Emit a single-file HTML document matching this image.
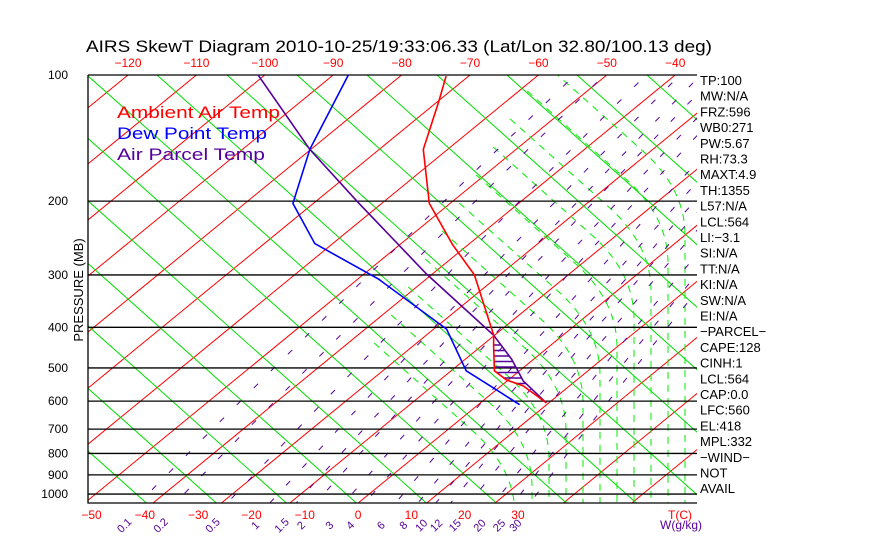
<!DOCTYPE html>
<html><head><meta charset="utf-8"><style>
html,body{margin:0;padding:0;background:#fff;}
svg{display:block;font-family:"Liberation Sans",sans-serif;}
</style></head><body>
<svg id="chart" width="870" height="560" viewBox="0 0 870 560" xmlns="http://www.w3.org/2000/svg">
<defs><clipPath id="plotclip"><rect x="88" y="75" width="609" height="428"/></clipPath></defs>
<text x="86" y="52" font-size="17" textLength="626" lengthAdjust="spacingAndGlyphs" fill="#000">AIRS SkewT Diagram 2010-10-25/19:33:06.33 (Lat/Lon 32.80/100.13 deg)</text>
<g id="bg" clip-path="url(#plotclip)"></g>
<g id="frame"></g>
<g id="series" clip-path="url(#plotclip)"></g>
<g id="labels"></g>
<text x="117" y="118" font-size="17" fill="#ff0000" textLength="163" lengthAdjust="spacingAndGlyphs">Ambient Air Temp</text>
<text x="117" y="139" font-size="17" fill="#0000ff" textLength="150" lengthAdjust="spacingAndGlyphs">Dew Point Temp</text>
<text x="117" y="160" font-size="17" fill="#55009a" textLength="148" lengthAdjust="spacingAndGlyphs">Air Parcel Temp</text>
<text transform="translate(83,290) rotate(-90)" text-anchor="middle" font-size="13" fill="#000">PRESSURE (MB)</text>
</svg>
<script>
// ---- data ----
const pressureTicks = [100,200,300,400,500,600,700,800,900,1000];
const bottomTempTicks = [-50,-40,-30,-20,-10,0,10,20,30];
const topTempTicks = [-120,-110,-100,-90,-80,-70,-60,-50,-40];
const mixingRatios = [0.1,0.2,0.5,1,1.5,2,3,4,6,8,10,12,15,20,25,30];
const ambientP = [100.6,115.4,150.5,202.5,254,300,418,442,508,534,552,606];
const ambientT = [-85.2,-80.6,-72.0,-58.0,-43.8,-32.5,-14.5,-12.1,-5.9,-1.5,3.1,11.5];
const dewP = [99.6,150.5,202.5,252.6,306.9,404,508,564,612];
const dewT = [-103.9,-93.3,-83.6,-69.9,-49.5,-24.8,-11.2,-1.0,6.9];
const parcelP = [99.6,150.5,200.6,298.5,418,477,537,606];
const parcelT = [-121,-93.3,-71.9,-41.7,-14.5,-5.4,1.9,11.5];
const infoLabels = ["TP:100","MW:N/A","FRZ:596","WB0:271","PW:5.67","RH:73.3","MAXT:4.9","TH:1355","L57:N/A","LCL:564","LI:\u22123.1","SI:N/A","TT:N/A","KI:N/A","SW:N/A","EI:N/A","\u2212PARCEL\u2212","CAPE:128","CINH:1","LCL:564","CAP:0.0","LFC:560","EL:418","MPL:332","\u2212WIND\u2212","NOT","AVAIL"];

const NS="http://www.w3.org/2000/svg";
const X0=88,X1=697,YT=75,YB=503;
function yP(p){return 75+182*Math.log(p/100);}
function xT(T,p){return 358+5.33*T+1.27*(YB-yP(p));}
function xIso(T,y){return 128+6.84*(T+120)-1.22*(y-YT);}
function mk(tag,attrs,parent){const e=document.createElementNS(NS,tag);for(const k in attrs)e.setAttribute(k,attrs[k]);parent.appendChild(e);return e;}
const bg=document.getElementById('bg'),fr=document.getElementById('frame'),se=document.getElementById('series'),lb=document.getElementById('labels');
const plevels=[];for(let p=95;p<=1100;p*=1.01)plevels.push(p);
function ptsOf(fn){return plevels.map(p=>xT(fn(p),p).toFixed(1)+','+yP(p).toFixed(1)).join(' ');}

// isotherms
for(let T=-130;T<=40;T+=10){
  const l=mk('line',{x1:xIso(T,YB+5),y1:YB+5,x2:xIso(T,YT-5),y2:YT-5,stroke:'#ff0000','stroke-width':1},bg);
  
  
}
// dry adiabats
for(let k=-7;k<=9;k++){
  const xs=87+70*k;
  const l=mk('line',{x1:xs,y1:YT,x2:xs+460*1.12,y2:YT+460,stroke:'#00dd00','stroke-width':1},bg);
  
  
}
// moist adiabats
for(let j=0;j<11;j++){
  const xv=515+17*j;
  const yb=470-28*j;
  const L=90;
  const d=`M${xv-40-L*1.12},${yb-37-L} L${xv-40},${yb-37} Q${xv},${yb} ${xv},${yb+45} L${xv},${YB}`;
  const l=mk('path',{d:d,fill:'none',stroke:'#00ee00','stroke-width':1,'stroke-dasharray':'7,6'},bg);
  
  
}
// mixing ratio lines
function tw(w,p){const e=w*p/(622+w);const a=Math.log(e/6.112);return 243.5*a/(17.67-a);}
mixingRatios.forEach(w=>{
  const l=mk('polyline',{points:ptsOf(p=>tw(w,p)),fill:'none',stroke:'#55009a','stroke-width':1,'stroke-dasharray':'6,18'},bg);
  
  
  const x=xT(tw(w,1050),1050)-12;
  const t=mk('text',{x:x,y:528,'font-size':11,fill:'#55009a',transform:`rotate(-45 ${x} 528)`,'text-anchor':'middle'},lb);
  t.textContent=w;
  
  
});
// pressure lines & labels
pressureTicks.forEach(p=>{
  const y=yP(p);
  const l=mk('line',{x1:X0,y1:y,x2:X1,y2:y,stroke:'#000','stroke-width':1.3},fr);
  
  
  const t=mk('text',{x:68,y:y+4,'font-size':12,fill:'#000','text-anchor':'end'},lb);
  t.textContent=p;
  
  
});
const b1=mk('polyline',{points:`${X0},${YT} ${X0},${YB} ${X1},${YB}`,fill:'none',stroke:'#000','stroke-width':1.3},fr);


bottomTempTicks.forEach(T=>{
  const t=mk('text',{x:xT(T,1050),y:519,'font-size':12,fill:'#ff0000','text-anchor':'middle'},lb);
  t.textContent=T<0?'\u2212'+(-T):T;
  
  
});
const tc=mk('text',{x:668,y:519,'font-size':12,fill:'#ff0000'},lb);tc.textContent='T(C)';


const wu=mk('text',{x:660,y:529,'font-size':12,fill:'#55009a'},lb);wu.textContent='W(g/kg)';


topTempTicks.forEach(T=>{
  const t=mk('text',{x:xIso(T,YT),y:67,'font-size':12,fill:'#ff0000','text-anchor':'middle'},lb);
  t.textContent='\u2212'+(-T);
  
  
});
infoLabels.forEach((s,i)=>{
  const t=mk('text',{x:700,y:85+15.7*i,'font-size':13,fill:'#000'},lb);
  t.textContent=s;
  
  
});
// series
function interp(P,T,p){for(let i=0;i<P.length-1;i++){if(p>=P[i]&&p<=P[i+1]){const f=Math.log(p/P[i])/Math.log(P[i+1]/P[i]);return T[i]+f*(T[i+1]-T[i]);}}return null;}
for(let y=345;y<=386;y+=5.5){
  const p=100*Math.exp((y-75)/182);
  const ta=interp(ambientP,ambientT,p),tp=interp(parcelP,parcelT,p);
  if(ta!==null&&tp!==null&&tp>ta){
    const h=mk('line',{x1:xT(ta,p),y1:y,x2:xT(tp,p),y2:y,stroke:'#55009a','stroke-width':1.5},se);
    
    
  }
}
function prof(P,T,color,name){
  const l=mk('polyline',{points:P.map((p,i)=>xT(T[i],p).toFixed(1)+','+yP(p).toFixed(1)).join(' '),fill:'none',stroke:color,'stroke-width':1.6},se);
  
  
}
prof(dewP,dewT,'#0000ff','dew-point-profile');
prof(parcelP,parcelT,'#55009a','parcel-profile');
prof(ambientP,ambientT,'#ff0000','ambient-temp-profile');
</script>
</body></html>
